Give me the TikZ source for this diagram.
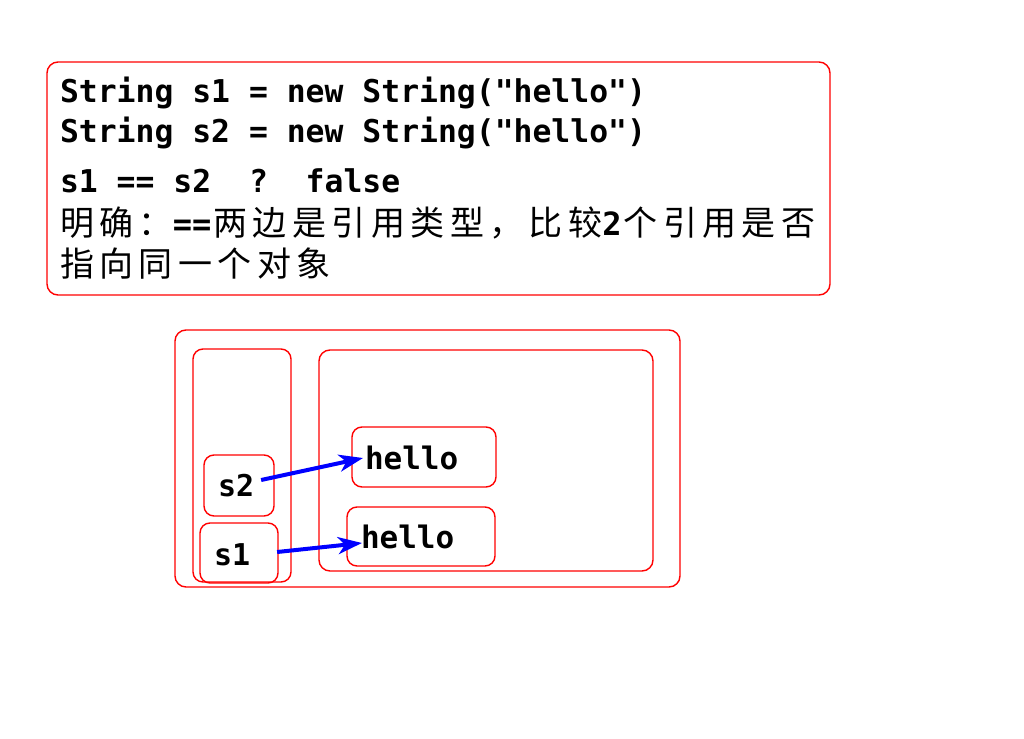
\documentclass[tikz,border=0pt]{standalone}
\usepackage{fontspec}
\setmonofont{DejaVu Sans Mono}
\newfontfamily\cjk{Noto Sans CJK SC}[LetterSpace=16]
\usetikzlibrary{arrows.meta}
\tikzset{
  rbox/.style={draw=red, line width=1.4pt, rounded corners=#1, inner sep=0pt, outer sep=0pt},
  rbox/.default=9pt,
  code/.style={inner sep=0pt, outer sep=0pt, font=\fontsize{31.4}{33}\selectfont\ttfamily\bfseries},
  cjkline/.style={inner sep=0pt, outer sep=0pt, font=\fontsize{34}{36}\selectfont\cjk},
  ref/.style={draw=blue, line width=4pt, -{Stealth[length=24pt,width=17pt,inset=7pt]}},
}
\newcommand{\mb}[1]{{\fontsize{32}{32}\selectfont\ttfamily\bfseries #1\hspace{2pt}}}
\begin{document}
\begin{tikzpicture}[x=1pt,y=-1pt]
\useasboundingbox (0,0) rectangle (1024,738);
% top box
\node[rbox=11pt, minimum width=783pt, minimum height=233pt] (top) at (438.5,178.5) {};
\node[code, anchor=base west] (l1) at (60,103) {String s1 = new String("hello")};
\node[code, anchor=base west] (l2) at (60,143) {String s2 = new String("hello")};
\node[code, anchor=base west] (l3) at (60,193) {s1 == s2~~?~~false};
\node[cjkline, anchor=base west] (l4) at (60,235) {明确：\mb{==}两边是引用类型，比较\mb{2}个引用是否};
\node[cjkline, anchor=base west] (l5) at (60,276) {指向同一个对象};
% memory diagram
\node[rbox=11pt, minimum width=505pt, minimum height=257pt] (outer) at (427.5,458.5) {};
\node[rbox=10pt, minimum width=98pt, minimum height=233pt] (stack) at (242,465.5) {};
\node[rbox=11pt, minimum width=334pt, minimum height=221pt] (heap) at (486,460.5) {};
\node[rbox=10pt, minimum width=144pt, minimum height=60pt] (h1box) at (424,457) {};
\node[rbox=10pt, minimum width=148pt, minimum height=59pt] (h2box) at (421,536.5) {};
\node[rbox=10pt, minimum width=70pt, minimum height=61pt] (s2box) at (239,485.5) {};
\node[rbox=10pt, minimum width=78pt, minimum height=60pt] (s1box) at (239,553) {};
\node[code, font=\fontsize{31}{31}\selectfont\ttfamily\bfseries, anchor=west] (h1) at (365,458) {hello};
\node[code, font=\fontsize{31}{31}\selectfont\ttfamily\bfseries, anchor=west] (h2) at (361,537) {hello};
\node[code, font=\fontsize{30}{30}\selectfont\ttfamily\bfseries, anchor=west] (s2) at (218,486) {s2};
\node[code, font=\fontsize{30}{30}\selectfont\ttfamily\bfseries, anchor=west] (s1) at (214,555) {s1};
\draw[ref] ([xshift=7pt,yshift=6pt]s2.east) -- ([xshift=-2pt]h1.west);
\draw[ref] ([xshift=27pt,yshift=3pt]s1.east) -- ([xshift=1pt,yshift=-6pt]h2.west);
\end{tikzpicture}
\end{document}
